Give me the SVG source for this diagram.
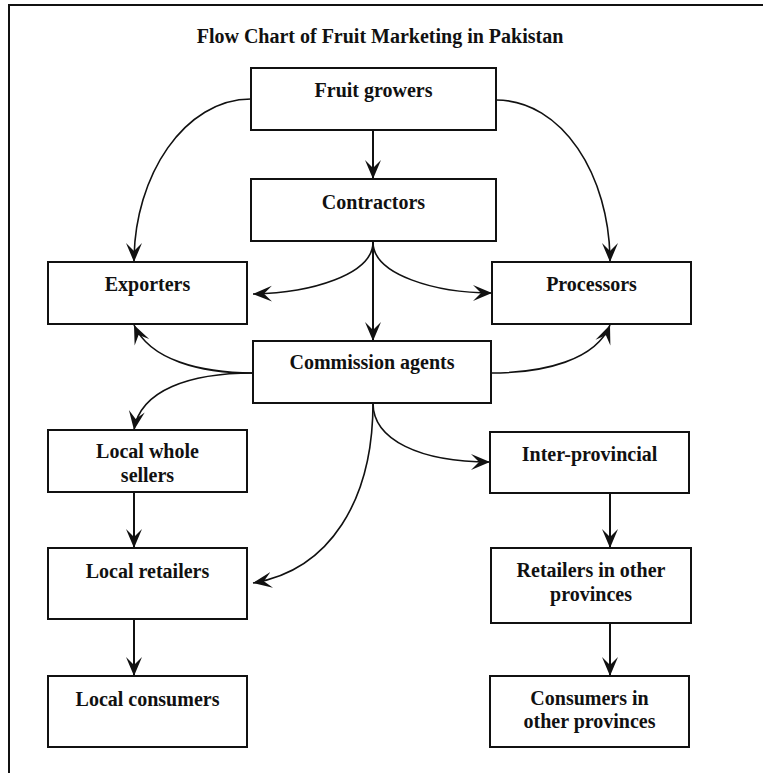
<svg xmlns="http://www.w3.org/2000/svg" width="763" height="773" viewBox="0 0 763 773">
<style>
.box{fill:#fff;stroke:#111;stroke-width:2}
.t{font-family:"Liberation Serif","Times New Roman",serif;font-weight:bold;font-size:20px;fill:#111;text-anchor:middle}
.c{fill:none;stroke:#111;stroke-width:2;marker-end:url(#ah)}
.cv{fill:none;stroke:#111;stroke-width:1.6;marker-end:url(#ah)}
</style>
<defs>
<marker id="ah" markerUnits="userSpaceOnUse" markerWidth="20" markerHeight="18" viewBox="0 0 20 16" refX="19" refY="8" orient="auto">
<path d="M19,8 L0,0 L8,8 L0,16 Z" fill="#111"/>
</marker>
</defs>
<rect width="763" height="773" fill="#fff"/>
<path d="M9,773 V5 H763" fill="none" stroke="#111" stroke-width="2"/>
<text class="t" x="380" y="43">Flow Chart of Fruit Marketing in Pakistan</text>
<g id="connectors">
<path class="cv" d="M251,99 C185,99 134,175 134,262"/>
<path class="cv" d="M496,100 C562,100 610,175 610,262"/>
<path class="c" d="M373,130 V179"/>
<path class="cv" d="M373,242 C373,275 310,293 253,294"/>
<path class="cv" d="M373,242 C373,275 436,293 492,293"/>
<path class="c" d="M373,242 V341"/>
<path class="cv" d="M253,373 C200,373 150,360 134,325"/>
<path class="cv" d="M253,373 C190,373 140,390 134,430"/>
<path class="cv" d="M491,373 C544,373 596,360 610,325"/>
<path class="cv" d="M373,403 C373,440 420,462 490,462"/>
<path class="cv" d="M373,403 C373,500 330,570 253,583"/>
<path class="c" d="M134,492 V548"/>
<path class="c" d="M134,619 V676"/>
<path class="c" d="M610,493 V548"/>
<path class="c" d="M610,623 V676"/>
</g>
<g id="fruit-growers"><rect class="box" x="251" y="68" width="245" height="62"/><text class="t" x="373.5" y="97">Fruit growers</text></g>
<g id="contractors"><rect class="box" x="251" y="179" width="245" height="62"/><text class="t" x="373.5" y="209">Contractors</text></g>
<g id="exporters"><rect class="box" x="48" y="262" width="199" height="62"/><text class="t" x="147.5" y="291">Exporters</text></g>
<g id="processors"><rect class="box" x="492" y="262" width="199" height="62"/><text class="t" x="591.5" y="291">Processors</text></g>
<g id="commission-agents"><rect class="box" x="253" y="341" width="238" height="62"/><text class="t" x="372" y="369">Commission agents</text></g>
<g id="local-whole-sellers"><rect class="box" x="48" y="430" width="199" height="62"/><text class="t" x="147.5" y="458">Local whole</text><text class="t" x="147.5" y="482">sellers</text></g>
<g id="inter-provincial"><rect class="box" x="490" y="432" width="199" height="61"/><text class="t" x="589.5" y="461">Inter-provincial</text></g>
<g id="local-retailers"><rect class="box" x="48" y="548" width="199" height="71"/><text class="t" x="147.5" y="578">Local retailers</text></g>
<g id="retailers-other"><rect class="box" x="491" y="548" width="200" height="75"/><text class="t" x="591" y="577">Retailers in other</text><text class="t" x="591" y="601">provinces</text></g>
<g id="local-consumers"><rect class="box" x="48" y="676" width="199" height="71"/><text class="t" x="147.5" y="706">Local consumers</text></g>
<g id="consumers-other"><rect class="box" x="490" y="676" width="199" height="71"/><text class="t" x="589.5" y="705">Consumers in</text><text class="t" x="589.5" y="728">other provinces</text></g>
</svg>
